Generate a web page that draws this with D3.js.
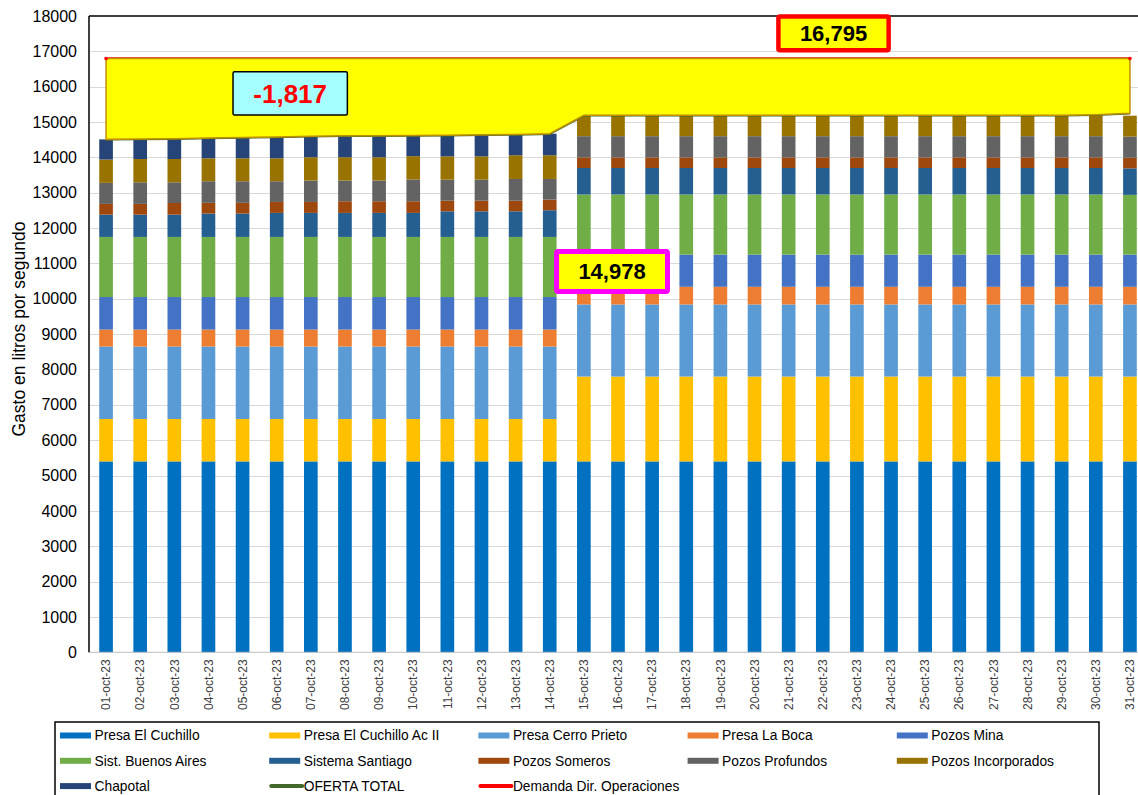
<!DOCTYPE html>
<html>
<head>
<meta charset="utf-8">
<script src="https://cdn.jsdelivr.net/npm/d3@7"></script>
<style>
  body { margin: 0; background: #fff; }
  svg { display: block; font-family: "Liberation Sans", Arial, sans-serif; }
</style>
</head>
<body>
<div id="chart"></div>
<script>
// ---------- data ----------
const dates = ['01-oct-23', '02-oct-23', '03-oct-23', '04-oct-23', '05-oct-23', '06-oct-23', '07-oct-23', '08-oct-23',
    '09-oct-23', '10-oct-23', '11-oct-23', '12-oct-23', '13-oct-23', '14-oct-23', '15-oct-23', '16-oct-23',
    '17-oct-23', '18-oct-23', '19-oct-23', '20-oct-23', '21-oct-23', '22-oct-23', '23-oct-23', '24-oct-23',
    '25-oct-23', '26-oct-23', '27-oct-23', '28-oct-23', '29-oct-23', '30-oct-23', '31-oct-23'];

const presaCuchillo = [5400, 5400, 5400, 5400, 5400, 5400, 5400, 5400, 5400, 5400, 5400, 5400, 5400, 5400, 5400, 5400,
    5400, 5400, 5400, 5400, 5400, 5400, 5400, 5400, 5400, 5400, 5400, 5400, 5400, 5400, 5400];
const presaCuchilloAc2 = [1200, 1200, 1200, 1200, 1200, 1200, 1200, 1200, 1200, 1200, 1200, 1200, 1200, 1200, 2400, 2400,
    2400, 2400, 2400, 2400, 2400, 2400, 2400, 2400, 2400, 2400, 2400, 2400, 2400, 2400, 2400];
const presaCerroPrieto = [2050, 2050, 2050, 2050, 2050, 2050, 2050, 2050, 2050, 2050, 2050, 2050, 2050, 2050, 2040, 2040,
    2040, 2040, 2040, 2040, 2040, 2040, 2040, 2040, 2040, 2040, 2040, 2040, 2040, 2040, 2040];
const presaLaBoca = [480, 480, 480, 480, 480, 480, 480, 480, 480, 480, 480, 480, 480, 480, 500, 500,
    500, 500, 500, 500, 500, 500, 500, 500, 500, 500, 500, 500, 500, 500, 500];
const pozosMina = [920, 920, 920, 920, 920, 920, 920, 920, 920, 920, 920, 920, 920, 920, 910, 910,
    910, 910, 910, 910, 910, 910, 910, 910, 910, 910, 910, 910, 910, 910, 910];
const buenosAires = [1700, 1700, 1700, 1700, 1700, 1700, 1700, 1700, 1700, 1700, 1700, 1700, 1700, 1700, 1700, 1700,
    1700, 1700, 1700, 1700, 1700, 1700, 1700, 1700, 1700, 1700, 1700, 1700, 1700, 1700, 1690];
const sistemaSantiago = [630, 630, 630, 660, 660, 680, 680, 680, 680, 680, 725, 725, 725, 755, 750, 750,
    750, 750, 750, 750, 750, 750, 750, 750, 750, 750, 750, 750, 750, 750, 750];
const pozosSomeros = [305, 305, 330, 305, 305, 310, 310, 330, 330, 330, 300, 300, 300, 300, 300, 300,
    300, 300, 300, 300, 300, 300, 300, 300, 300, 300, 300, 300, 300, 300, 300];
const pozosProfundos = [595, 610, 585, 610, 610, 585, 605, 585, 585, 615, 595, 595, 615, 585, 600, 600,
    600, 600, 600, 600, 600, 600, 600, 600, 600, 600, 600, 600, 600, 600, 600];
const pozosIncorporados = [660, 660, 660, 650, 650, 650, 660, 660, 660, 660, 660, 660, 670, 670, 590, 590,
    590, 590, 590, 590, 590, 590, 590, 590, 590, 590, 590, 590, 590, 590, 590];
const chapotal = [570, 560, 570, 575, 585, 605, 595, 605, 605, 590, 600, 610, 590, 610, 0, 0,
    0, 0, 0, 0, 0, 0, 0, 0, 0, 0, 0, 0, 0, 0, 0];

const ofertaTotal = [14510, 14520, 14530, 14550, 14560, 14580, 14600, 14610, 14610, 14620, 14630, 14640, 14650, 14670, 15190, 15190,
    15190, 15190, 15190, 15190, 15190, 15190, 15190, 15190, 15190, 15190, 15190, 15190, 15190, 15210, 15250];
const demanda = [16795, 16795, 16795, 16795, 16795, 16795, 16795, 16795, 16795, 16795, 16795, 16795, 16795, 16795, 16795, 16795,
    16795, 16795, 16795, 16795, 16795, 16795, 16795, 16795, 16795, 16795, 16795, 16795, 16795, 16795, 16795];

const yTicks = [0, 1000, 2000, 3000, 4000, 5000, 6000, 7000, 8000, 9000, 10000, 11000, 12000, 13000, 14000, 15000, 16000, 17000, 18000];

// series: name, values, colour (stack order bottom -> top)
const stackSeries = [
    { name: 'Presa El Cuchillo', values: presaCuchillo, color: '#0070c0' },
    { name: 'Presa El Cuchillo Ac II', values: presaCuchilloAc2, color: '#ffc000' },
    { name: 'Presa Cerro Prieto', values: presaCerroPrieto, color: '#5b9bd5' },
    { name: 'Presa La Boca', values: presaLaBoca, color: '#ed7d31' },
    { name: 'Pozos Mina', values: pozosMina, color: '#4472c4' },
    { name: 'Sist. Buenos Aires', values: buenosAires, color: '#70ad47' },
    { name: 'Sistema Santiago', values: sistemaSantiago, color: '#255e91' },
    { name: 'Pozos Someros', values: pozosSomeros, color: '#9e480e' },
    { name: 'Pozos Profundos', values: pozosProfundos, color: '#636363' },
    { name: 'Pozos Incorporados', values: pozosIncorporados, color: '#997300' },
    { name: 'Chapotal', values: chapotal, color: '#264478' },
];
const lineSeries = [
    { name: 'OFERTA TOTAL', values: ofertaTotal, color: '#43682b' },
    { name: 'Demanda Dir. Operaciones', values: demanda, color: '#ff0000' },
];

// annotation boxes (anchored in day-index / value units)
const notes = [
    { text: '-1,817', i0: 3.72, i1: 7.07, v0: 15200, v1: 16420, fill: '#a6ffff', stroke: '#000', sw: 1.5, color: '#ff0000', size: 26 },
    { text: '16,795', i0: 19.7, i1: 22.93, v0: 17030, v1: 17985, fill: '#ffff00', stroke: '#ff0000', sw: 4.5, color: '#000', size: 22 },
    { text: '14,978', i0: 13.2, i1: 16.45, v0: 10210, v1: 11340, fill: '#ffff00', stroke: '#ff00ff', sw: 5, color: '#000', size: 22 },
];

// ---------- layout ----------
const width = 1138;
const height = 795;
const plotLeft = 89;
const plotRight = 1147;
const plotTop = 16;
const plotBottom = 652.3;

const svg = d3.select('#chart').append('svg')
    .attr('width', width)
    .attr('height', height);

// scales
const xScale = d3.scaleBand()
    .domain(dates)
    .range([plotLeft, plotRight])
    .paddingInner(0.6)
    .paddingOuter(0.3);
const yScale = d3.scaleLinear()
    .domain([0, 18000])
    .range([plotBottom, plotTop]);
const xCenter = (d) => xScale(d) + xScale.bandwidth() / 2;
const xIndex = d3.scaleLinear()
    .domain([0, dates.length - 1])
    .range([xCenter(dates[0]), xCenter(dates[dates.length - 1])]);

// grid
svg.append('g')
    .attr('class', 'grid')
    .selectAll('line')
    .data(yTicks.filter((t) => t > 0 && t < 18000))
    .join('line')
    .attr('x1', plotLeft)
    .attr('x2', plotRight)
    .attr('y1', (d) => Math.round(yScale(d)) + 0.5)
    .attr('y2', (d) => Math.round(yScale(d)) + 0.5)
    .attr('stroke', '#d9d9d9')
    .attr('stroke-width', 1);

// stacked bars
const rows = dates.map((d, i) => {
    const row = { date: d };
    stackSeries.forEach((s) => { row[s.name] = s.values[i]; });
    return row;
});
const stacked = d3.stack().keys(stackSeries.map((s) => s.name))(rows);

svg.append('g')
    .attr('class', 'bars')
    .selectAll('g')
    .data(stacked)
    .join('g')
    .attr('fill', (d, i) => stackSeries[i].color)
    .selectAll('rect')
    .data((d) => d)
    .join('rect')
    .attr('x', (d) => xScale(d.data.date))
    .attr('width', xScale.bandwidth())
    .attr('y', (d) => yScale(d[1]))
    .attr('height', (d) => Math.max(0, yScale(d[0]) - yScale(d[1])));

// demand / offer lines
const line = (vals) => d3.line()
    .x((d, i) => xIndex(i))
    .y((d) => yScale(d))(vals);

svg.append('path')
    .attr('d', line(demanda))
    .attr('fill', 'none')
    .attr('stroke', '#ff0000')
    .attr('stroke-width', 2.5);
svg.append('path')
    .attr('d', line(ofertaTotal))
    .attr('fill', 'none')
    .attr('stroke', '#43682b')
    .attr('stroke-width', 2.5);

// deficit area between offer and demand
const area = d3.area()
    .x((d, i) => xIndex(i))
    .y0((d, i) => yScale(ofertaTotal[i]))
    .y1((d) => yScale(d));
svg.append('path')
    .attr('d', area(demanda))
    .attr('fill', '#ffff00')
    .attr('stroke', '#bf9000')
    .attr('stroke-width', 1.5);

svg.append('g')
    .selectAll('circle')
    .data([0, dates.length - 1])
    .join('circle')
    .attr('cx', (i) => xIndex(i))
    .attr('cy', (i) => yScale(demanda[i]))
    .attr('r', 1.8)
    .attr('fill', '#ff0000');

// plot frame
svg.append('line')
    .attr('x1', plotLeft).attr('x2', plotRight)
    .attr('y1', plotBottom).attr('y2', plotBottom)
    .attr('stroke', '#bfbfbf').attr('stroke-width', 1);
svg.append('line')
    .attr('x1', plotLeft).attr('x2', plotRight)
    .attr('y1', plotTop).attr('y2', plotTop)
    .attr('stroke', '#000').attr('stroke-width', 1.5);
svg.append('line')
    .attr('x1', plotLeft).attr('x2', plotLeft)
    .attr('y1', plotTop).attr('y2', plotBottom)
    .attr('stroke', '#000').attr('stroke-width', 1.5);

// y axis labels
svg.append('g')
    .attr('class', 'y-labels')
    .selectAll('text')
    .data(yTicks)
    .join('text')
    .attr('x', 77)
    .attr('y', (d) => yScale(d))
    .attr('dy', '0.35em')
    .attr('text-anchor', 'end')
    .attr('font-size', 16)
    .attr('fill', '#000')
    .text((d) => d);

svg.append('text')
    .attr('transform', 'translate(24.5,329) rotate(-90)')
    .attr('text-anchor', 'middle')
    .attr('font-size', 17.5)
    .attr('fill', '#000')
    .text('Gasto en litros por segundo');

// x axis labels
svg.append('g')
    .attr('class', 'x-labels')
    .selectAll('text')
    .data(dates)
    .join('text')
    .attr('transform', (d) => `translate(${xCenter(d)},${plotBottom + 7}) rotate(-90)`)
    .attr('dy', '0.35em')
    .attr('text-anchor', 'end')
    .attr('font-size', 12)
    .attr('fill', '#404040')
    .text((d) => d);

// annotation boxes
const noteG = svg.append('g').attr('class', 'notes')
    .selectAll('g')
    .data(notes)
    .join('g');
noteG.append('rect')
    .attr('x', (d) => xIndex(d.i0))
    .attr('y', (d) => yScale(d.v1))
    .attr('width', (d) => xIndex(d.i1) - xIndex(d.i0))
    .attr('height', (d) => yScale(d.v0) - yScale(d.v1))
    .attr('rx', 1.5)
    .attr('fill', (d) => d.fill)
    .attr('stroke', (d) => d.stroke)
    .attr('stroke-width', (d) => d.sw);
noteG.append('text')
    .attr('x', (d) => (xIndex(d.i0) + xIndex(d.i1)) / 2)
    .attr('y', (d) => (yScale(d.v0) + yScale(d.v1)) / 2)
    .attr('dy', '0.36em')
    .attr('text-anchor', 'middle')
    .attr('font-size', (d) => d.size)
    .attr('font-weight', 'bold')
    .attr('fill', (d) => d.color)
    .text((d) => d.text);

// legend
const legendItems = stackSeries.map((s) => ({ ...s, type: 'bar' }))
    .concat(lineSeries.map((s) => ({ ...s, type: 'line' })));
const legendLeft = 55;
const colStep = 209.2;
const rowStep = 25.3;

svg.append('rect')
    .attr('x', legendLeft)
    .attr('y', 722)
    .attr('width', 1099 - legendLeft)
    .attr('height', 90)
    .attr('fill', 'none')
    .attr('stroke', '#000')
    .attr('stroke-width', 1.5);

const legend = svg.append('g')
    .attr('class', 'legend')
    .selectAll('g')
    .data(legendItems)
    .join('g')
    .attr('transform', (d, i) => `translate(${60 + (i % 5) * colStep},${735.5 + Math.floor(i / 5) * rowStep})`);
legend.filter((d) => d.type === 'bar')
    .append('rect')
    .attr('x', 0)
    .attr('y', -3)
    .attr('width', 31)
    .attr('height', 6)
    .attr('fill', (d) => d.color);
legend.filter((d) => d.type === 'line')
    .append('line')
    .attr('x1', 2)
    .attr('x2', 33)
    .attr('y1', 0)
    .attr('y2', 0)
    .attr('stroke', (d) => d.color)
    .attr('stroke-width', 4)
    .attr('stroke-linecap', 'round');
legend.append('text')
    .attr('x', 34.5)
    .attr('y', 0)
    .attr('dy', '0.35em')
    .attr('font-size', 13.8)
    .attr('fill', '#000')
    .text((d) => d.name);
</script>
</body>
</html>
